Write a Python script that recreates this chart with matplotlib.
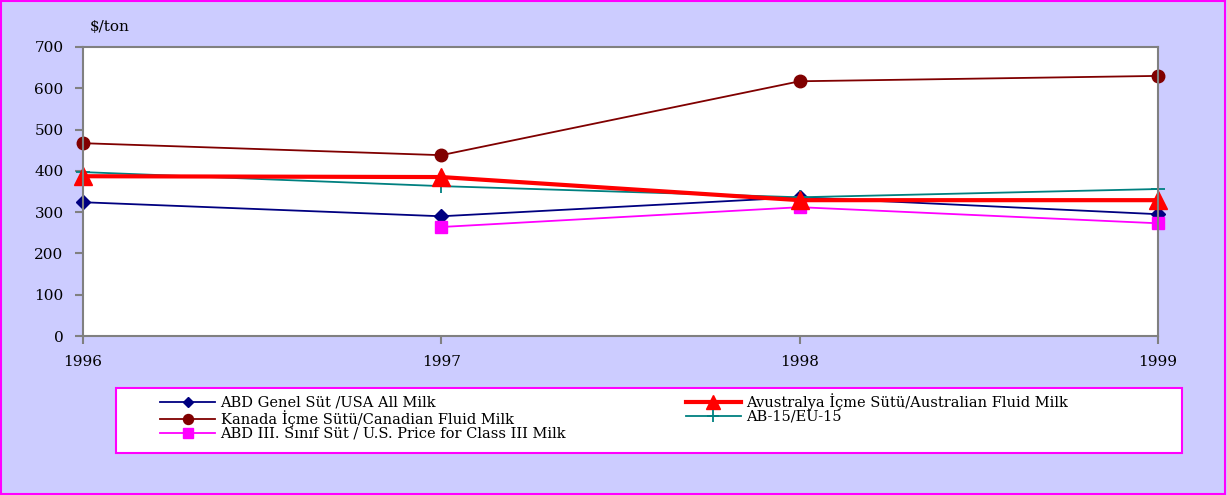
import matplotlib
matplotlib.use("Agg")
import matplotlib.pyplot as plt
from matplotlib.patches import Rectangle

# Data ($/ton)
years = [1996, 1997, 1998, 1999]
usa_all_milk = [324, 290, 336, 295]
australian_fluid = [387, 385, 329, 329]
canadian_fluid = [467, 438, 617, 630]
eu15 = [397, 363, 336, 356]
class3_years = [1997, 1998, 1999]
class3_milk = [264, 312, 273]

y_ticks = [0, 100, 200, 300, 400, 500, 600, 700]

plt.rcParams["font.family"] = ["DejaVu Serif"]

W, H = 1227, 495
fig = plt.figure(figsize=(W / 100, H / 100), dpi=100)
fig.patch.set_facecolor("#CCCCFF")
fig.patches.append(Rectangle((0.001, 0.002), 0.997, 0.995, transform=fig.transFigure,
                             fill=False, edgecolor="#FF00FF", linewidth=1.5))
# legend box
fig.patches.append(Rectangle((116 / W, 1 - 453 / H), (1182 - 116) / W, 65 / H,
                             transform=fig.transFigure, facecolor="white",
                             edgecolor="#FF00FF", linewidth=1.5))

ax = fig.add_axes([83 / W, (H - 336) / H, (1158 - 83) / W, (336 - 47) / H])
ax.set_facecolor("white")

h1, = ax.plot(years, usa_all_milk, color="#000080", lw=1.3, marker="D", ms=7, clip_on=False,
              label="ABD Genel Süt /USA All Milk")
h3, = ax.plot(years, canadian_fluid, color="#800000", lw=1.3, marker="o", ms=9, clip_on=False,
              label="Kanada İçme Sütü/Canadian Fluid Milk")
h4, = ax.plot(years, eu15, color="#008080", lw=1.3, marker="+", ms=10, mew=1.3, clip_on=False,
              label="AB-15/EU-15")
h5, = ax.plot(class3_years, class3_milk, color="#FF00FF", lw=1.3, marker="s", ms=9, clip_on=False,
              label="ABD III. Sınıf Süt / U.S. Price for Class III Milk")
h2, = ax.plot(years, australian_fluid, color="#FF0000", lw=3, marker="^", ms=13, clip_on=False,
              label="Avustralya İçme Sütü/Australian Fluid Milk")

ax.set_xlim(1996, 1999)
ax.set_ylim(0, 700)
ax.set_xticks(years)
ax.set_yticks(y_ticks)
for s in ax.spines.values():
    s.set_color("#808080")
    s.set_linewidth(1.5)
ax.tick_params(axis="both", colors="#808080", length=6, width=1.5, direction="out",
               labelcolor="black", labelsize=11)
ax.tick_params(axis="x", pad=8)
ax.tick_params(axis="y", pad=8)

fig.text(90 / W, 1 - 27 / H, "$/ton", fontsize=11, ha="left", va="center")

# column-wise fill: USA, Canada, Class III | Australia, EU
leg = fig.legend(handles=[h1, h3, h5, h2, h4], ncol=2, loc="upper left",
                 bbox_to_anchor=(160 / W, 1 - 393 / H),
                 frameon=False, fontsize=10.5, handlelength=3.8,
                 handletextpad=0.35, labelspacing=0.0, borderaxespad=0,
                 borderpad=0, columnspacing=8.2, markerscale=0.8)

fig.savefig("out.png", dpi=100, facecolor=fig.get_facecolor())
